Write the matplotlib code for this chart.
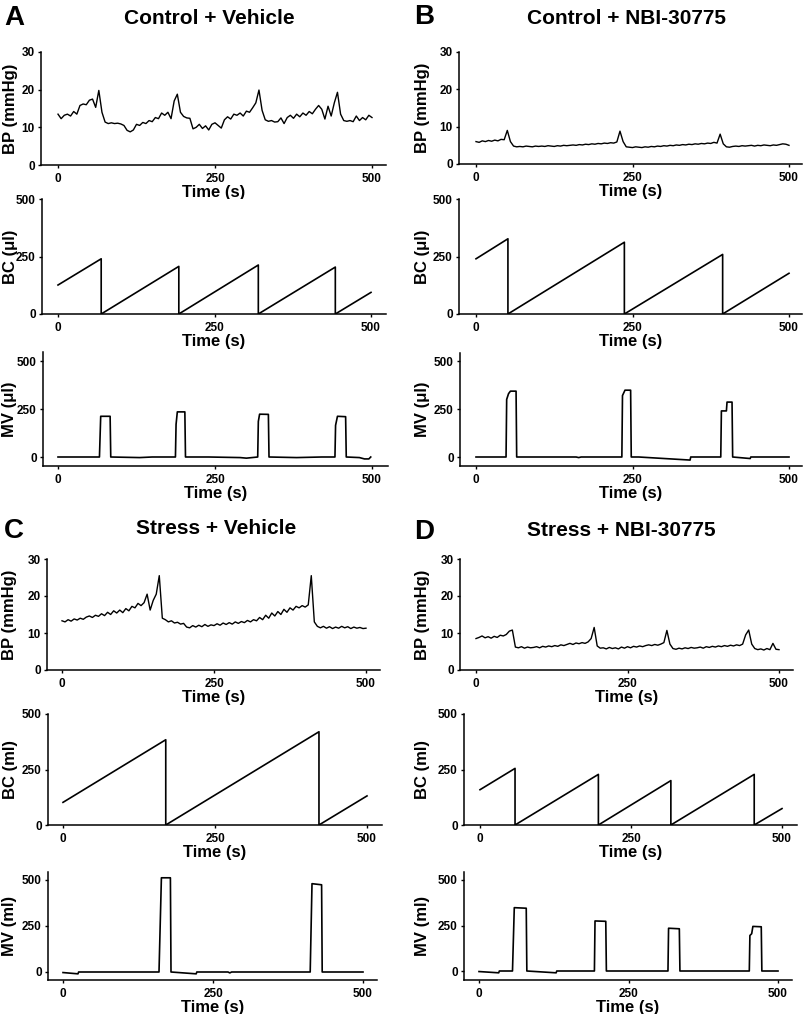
import matplotlib
matplotlib.use("Agg")
import matplotlib.pyplot as plt
import numpy as np

plt.rcParams['font.family'] = ['Liberation Sans', 'DejaVu Sans']
plt.rcParams['font.weight'] = 'bold'

W, H = 805, 1014

bp_time = np.arange(0, 501, 5)

bp_a = [13.5, 12.3, 13.2, 13.5, 13.0, 14.2, 13.5, 15.8, 16.2, 16.0,
        17.2, 17.5, 15.3, 19.8, 14.0, 11.4, 11.0, 11.2, 11.0, 11.1,
        10.9, 10.5, 9.2, 8.8, 9.3, 10.8, 10.5, 11.3, 11.0, 11.8,
        11.5, 12.6, 12.3, 13.8, 13.2, 14.0, 12.3, 17.0, 18.8, 14.0,
        12.9, 12.5, 12.4, 9.6, 10.0, 10.8, 9.7, 10.4, 9.3, 10.8,
        11.2, 10.5, 9.8, 12.0, 12.8, 12.2, 13.5, 13.2, 13.8, 13.0,
        14.3, 14.0, 15.2, 16.5, 19.9, 14.5, 12.0, 11.6, 11.8, 11.4,
        11.5, 12.5, 11.0, 12.6, 13.2, 12.4, 13.5, 12.8, 13.8, 13.2,
        14.2, 13.6, 14.8, 15.8, 14.8, 12.2, 15.6, 13.0, 16.5, 19.3,
        13.5, 11.8, 11.6, 11.8, 11.5, 13.0, 11.8, 12.6, 12.0, 13.2,
        12.6]

bp_b = [6.0, 5.8, 6.2, 6.0, 6.3, 6.1, 6.4, 6.2, 6.6, 6.5,
        9.0, 6.0, 4.8, 4.6, 4.7, 4.6, 4.8, 4.7, 4.6, 4.8,
        4.7, 4.8, 4.7, 4.9, 4.8, 4.7, 4.9, 4.8, 5.0, 4.9,
        5.0, 5.1, 5.0, 5.2, 5.1, 5.3, 5.2, 5.4, 5.3, 5.5,
        5.4, 5.6, 5.5, 5.7, 5.6, 5.9, 8.8, 6.0, 4.6, 4.5,
        4.4, 4.6, 4.5, 4.4, 4.6, 4.5, 4.7, 4.6, 4.8, 4.7,
        4.9, 4.8, 5.0, 4.9, 5.1, 5.0, 5.2, 5.1, 5.3, 5.2,
        5.4, 5.3, 5.5, 5.4, 5.6, 5.5, 5.8, 5.6, 8.0, 5.4,
        4.6, 4.5, 4.7, 4.8, 4.7, 4.9, 4.8, 4.9, 5.0, 4.8,
        5.0, 4.9, 5.1, 5.0, 4.9, 5.1, 5.0, 5.2, 5.4, 5.3,
        5.0]

bp_c = [13.3, 13.0, 13.6, 13.2, 13.8, 13.5, 14.0, 13.7, 14.3, 14.6,
        14.2, 14.8, 14.5, 15.2, 14.7, 15.6, 15.0, 16.0, 15.4, 16.2,
        15.5, 16.6, 16.0, 17.2, 16.8, 18.0, 17.4, 18.2, 20.5, 16.2,
        18.8, 20.5, 25.5, 14.0, 13.6, 13.0, 13.3, 12.7, 12.9, 12.4,
        12.6, 11.6, 11.4, 12.0, 11.6, 12.1, 11.7, 12.3, 11.8, 12.2,
        12.0, 12.5, 12.1, 12.7, 12.3, 12.8, 12.4, 13.0, 12.6, 13.1,
        12.8, 13.4, 13.0, 13.6, 13.3, 14.2, 13.6, 14.8, 14.0, 15.4,
        14.6, 15.8, 15.0, 16.4, 15.6, 16.8, 16.2, 17.2, 16.8, 17.4,
        17.0, 17.6, 25.5, 13.0, 11.8, 11.4, 11.8, 11.3, 11.7, 11.2,
        11.6, 11.3, 11.8, 11.4, 11.7, 11.2, 11.6, 11.3, 11.5, 11.2,
        11.3]

bp_d = [8.5, 8.8, 9.2, 8.7, 9.0, 8.6, 9.1, 8.8, 9.4, 9.2,
        9.6, 10.5, 10.8, 6.2, 6.0, 6.3, 5.9, 6.2, 6.0, 6.1,
        6.3, 6.0, 6.4, 6.2, 6.5, 6.3, 6.6, 6.4, 6.8, 6.6,
        6.9, 7.2, 6.9, 7.3, 7.1, 7.4, 7.2, 7.6, 8.5, 11.5,
        6.5, 5.9, 6.0, 5.7, 6.1, 5.8, 6.0, 5.7, 6.2, 5.9,
        6.3, 6.0, 6.4, 6.2, 6.5, 6.3, 6.6, 6.8, 6.6, 6.9,
        6.7, 7.0, 7.4, 10.7, 7.0, 5.8, 5.6, 5.9, 5.7, 6.0,
        5.8, 6.1, 5.9, 6.0, 6.2, 5.9, 6.3, 6.1, 6.4, 6.2,
        6.5, 6.3, 6.6, 6.4, 6.7, 6.5, 6.8, 6.6, 7.0, 9.5,
        10.8, 7.0, 5.8, 5.5, 5.7, 5.4, 5.8, 5.5, 7.2, 5.6,
        5.5]

# bladder capacity (sawtooth breakpoints)
bc_a_t = [0, 69, 69, 193, 193, 320, 320, 443, 443, 500]
bc_a_v = [126, 240, 0, 207, 0, 213, 0, 204, 0, 94]
bc_b_t = [0, 51, 51, 237, 237, 394, 394, 500]
bc_b_v = [240, 327, 0, 312, 0, 259, 0, 177]
bc_c_t = [0, 169, 169, 421, 421, 500]
bc_c_v = [102, 384, 0, 420, 0, 131]
bc_d_t = [0, 58, 58, 196, 196, 316, 316, 454, 454, 500]
bc_d_v = [159, 255, 0, 228, 0, 200, 0, 228, 0, 74]

# micturition volume
mv_a_t = [0, 66, 68, 83, 84, 130, 150, 187, 188, 190, 202, 203, 240, 290, 300,
          318, 319, 321, 335, 336, 380, 420, 441, 442, 445, 458, 459, 480, 488, 495, 498]
mv_a_v = [0, 0, 212, 212, 0, -3, 0, 0, 170, 235, 235, 0, 0, -3, -6,
          0, 185, 223, 222, 0, -3, 0, 0, 165, 212, 210, 0, -3, -10, -10, 0]
mv_b_t = [0, 48, 49, 52, 55, 64, 65, 160, 164, 168, 233, 234, 238, 247, 248, 260,
          342, 343, 391, 392, 400, 401, 409, 410, 438, 439, 500]
mv_b_v = [0, 0, 300, 330, 343, 343, 0, 0, -3, 0, 0, 320, 348, 348, 0, 0,
          -16, 0, 0, 240, 240, 286, 286, 0, -8, 0, 0]
mv_c_t = [0, 25, 26, 160, 164, 179, 180, 222, 223, 275, 278, 281, 412, 415, 431, 432, 500]
mv_c_v = [-3, -10, 0, 0, 512, 512, 0, -10, 0, 0, -5, 0, 0, 480, 474, 0, 0]
mv_d_t = [0, 33, 34, 56, 59, 79, 80, 129, 130, 193, 194, 212, 213, 316, 317, 335, 336,
          452, 453, 456, 458, 472, 473, 500]
mv_d_v = [-3, -10, 0, 0, 348, 345, 0, -10, 0, 0, 275, 273, 0, 0, 235, 232, 0,
          0, 195, 205, 245, 243, 0, 0]

letters = ['A', 'B', 'C', 'D']
titles = ['Control + Vehicle', 'Control + NBI-30775', 'Stress + Vehicle', 'Stress + NBI-30775']
units = ['\u03bcl', '\u03bcl', 'ml', 'ml']

bp_data = [bp_a, bp_b, bp_c, bp_d]
bc_data = [(bc_a_t, bc_a_v), (bc_b_t, bc_b_v), (bc_c_t, bc_c_v), (bc_d_t, bc_d_v)]
mv_data = [(mv_a_t, mv_a_v), (mv_b_t, mv_b_v), (mv_c_t, mv_c_v), (mv_d_t, mv_d_v)]

# pixel layout: x0, x500, left, right, y(vlo)px, y(vhi)px, vlo, vhi, bottom, top
layout = [
    [(58, 372, 41, 386, 165, 52, 0, 30, 165, 52),
     (58, 371, 42, 386, 314, 199, 0, 500, 314, 199),
     (58, 372, 43, 388, 457, 361, 0, 500, 466, 352)],
    [(476, 789, 459, 802, 164, 52, 0, 30, 164, 52),
     (476, 789, 459, 802, 314, 199, 0, 500, 314, 199),
     (476, 789, 460, 802, 457, 361, 0, 500, 466, 353)],
    [(62, 366, 47, 380, 670, 559, 0, 30, 670, 559),
     (63, 367, 48, 382, 825, 714, 0, 500, 825, 714),
     (63, 363, 48, 377, 972, 880, 0, 500, 980, 872)],
    [(476, 779, 460, 793, 670, 559, 0, 30, 670, 559),
     (480, 782, 464, 797, 825, 714, 0, 500, 825, 714),
     (479, 778, 464, 792, 971, 880, 0, 500, 980, 872)],
]
ylabel_x = [10, 422, 10, 422]
letter_pos = [(14, 18), (424, 17), (14, 531), (424, 532)]
title_pos = [(209, 18), (626, 18), (216, 529), (621, 530)]


def place(ax, spec):
    x0, x500, left, right, ylo_px, yhi_px, vlo, vhi, bottom, top = spec
    sx = (x500 - x0) / 500.0
    ax.set_xlim((left - x0) / sx, (right - x0) / sx)
    sy = (ylo_px - yhi_px) / float(vhi - vlo)
    ax.set_ylim(vlo - (bottom - ylo_px) / sy, vlo + (ylo_px - top) / sy)
    ax.set_position([left / W, 1 - bottom / H, (right - left) / W, (bottom - top) / H])


def style(ax, ylabel, yticks, xc):
    for s in ['top', 'right']:
        ax.spines[s].set_visible(False)
    for s in ['left', 'bottom']:
        ax.spines[s].set_linewidth(1.1)
    ax.set_xticks([0, 250, 500])
    ax.set_yticks(yticks)
    ax.tick_params(length=2.5, width=1.0, labelsize=8.5, pad=2)
    ax.tick_params(axis='x', pad=3)
    for lab in ax.get_xticklabels() + ax.get_yticklabels():
        lab.set_fontweight('bold')
    ax.set_xlabel('Time (s)', fontsize=12, fontweight='bold', labelpad=0)
    ax.set_ylabel(ylabel, fontsize=12, fontweight='bold', va='center')
    pos = ax.get_position()
    ax.yaxis.set_label_coords((xc / W - pos.x0) / pos.width, 0.5)


fig = plt.figure(figsize=(W / 100, H / 100), dpi=100)

for i in range(4):
    ax_bp = fig.add_axes([0, 0, 1, 1])
    ax_bp.plot(bp_time, bp_data[i], color='black', lw=1.0)
    place(ax_bp, layout[i][0])
    style(ax_bp, 'BP (mmHg)', [0, 10, 20, 30], ylabel_x[i])

    ax_bc = fig.add_axes([0, 0, 1, 1])
    ax_bc.plot(bc_data[i][0], bc_data[i][1], color='black', lw=1.2)
    place(ax_bc, layout[i][1])
    style(ax_bc, 'BC (' + units[i] + ')', [0, 250, 500], ylabel_x[i])

    ax_mv = fig.add_axes([0, 0, 1, 1])
    ax_mv.plot(mv_data[i][0], mv_data[i][1], color='black', lw=1.2)
    place(ax_mv, layout[i][2])
    style(ax_mv, 'MV (' + units[i] + ')', [0, 250, 500], ylabel_x[i])

    lx, ly = letter_pos[i]
    fig.text(lx / W, 1 - ly / H, letters[i], fontsize=20, fontweight='bold', ha='center', va='center')
    tx, ty = title_pos[i]
    fig.text(tx / W, 1 - ty / H, titles[i], fontsize=15, fontweight='bold', ha='center', va='center')

fig.savefig('out.png', dpi=100)
